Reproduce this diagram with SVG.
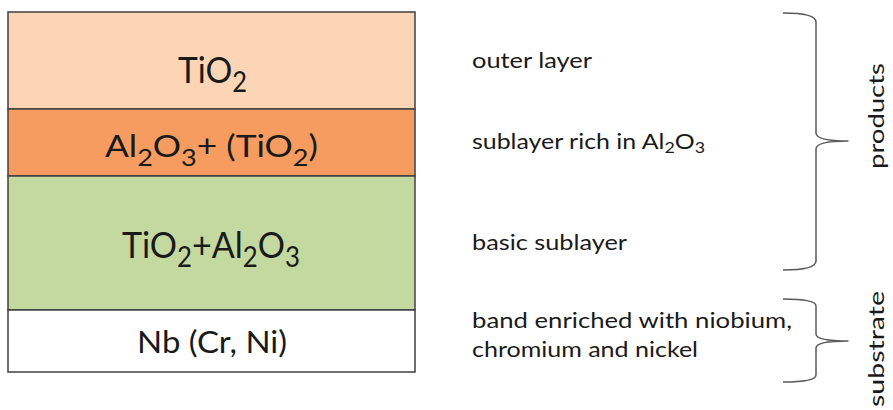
<svg xmlns="http://www.w3.org/2000/svg" width="893" height="410" viewBox="0 0 893 410">
  <style>
    .layer { stroke: #404040; stroke-width: 1.5; }
    .big { font-family: Lato, "Open Sans", "Liberation Sans", sans-serif; font-size: 37px; fill: #1a1a1a; }
    .mid { font-family: Lato, "Open Sans", "Liberation Sans", sans-serif; font-size: 30px; fill: #1a1a1a; }
    .note { font-family: Lato, "Open Sans", "Liberation Sans", sans-serif; font-size: 21px; fill: #1a1a1a; }
    .brace { fill: none; stroke: #5a5a5a; stroke-width: 1.5; stroke-linejoin: round; }
  </style>
  <rect width="893" height="410" fill="#ffffff"/>

  <!-- layer stack, top to bottom -->
  <g id="layer-tio2">
    <rect class="layer" x="8" y="12" width="407" height="97" fill="#fbd5b5"/>
    <text class="big" x="178" y="82.5" textLength="69" lengthAdjust="spacingAndGlyphs">TiO<tspan font-size="28" dy="9">2</tspan></text>
  </g>
  <g id="layer-al2o3">
    <rect class="layer" x="8" y="109" width="407" height="67" fill="#f79c60"/>
    <text class="mid" x="105" y="157" textLength="213" lengthAdjust="spacingAndGlyphs">Al<tspan font-size="23" dy="9">2</tspan><tspan dy="-9">O</tspan><tspan font-size="23" dy="9">3</tspan><tspan dy="-9">+ (TiO</tspan><tspan font-size="23" dy="9">2</tspan><tspan dy="-9">)</tspan></text>
  </g>
  <g id="layer-mixed">
    <rect class="layer" x="8" y="176" width="407" height="134" fill="#c4d9a0"/>
    <text class="big" x="122" y="258" textLength="178" lengthAdjust="spacingAndGlyphs">TiO<tspan font-size="28" dy="9">2</tspan><tspan dy="-9">+Al</tspan><tspan font-size="28" dy="9">2</tspan><tspan dy="-9">O</tspan><tspan font-size="28" dy="9">3</tspan></text>
  </g>
  <g id="layer-substrate">
    <rect class="layer" x="8" y="310" width="407" height="62" fill="#ffffff"/>
    <text class="mid" x="137" y="353" textLength="150" lengthAdjust="spacingAndGlyphs">Nb (Cr, Ni)</text>
  </g>

  <!-- layer descriptions -->
  <g id="desc-outer">
    <text class="note" x="472" y="67.5" textLength="120" lengthAdjust="spacingAndGlyphs">outer layer</text>
  </g>
  <g id="desc-rich">
    <text class="note" x="472" y="149" textLength="233" lengthAdjust="spacingAndGlyphs">sublayer rich in Al<tspan font-size="15" dy="4">2</tspan><tspan dy="-4">O</tspan><tspan font-size="15" dy="4">3</tspan></text>
  </g>
  <g id="desc-basic">
    <text class="note" x="472" y="249.5" textLength="155" lengthAdjust="spacingAndGlyphs">basic sublayer</text>
  </g>
  <g id="desc-band">
    <text class="note" x="472" y="328" textLength="320" lengthAdjust="spacingAndGlyphs">band enriched with niobium,</text>
    <text class="note" x="472" y="357" textLength="226" lengthAdjust="spacingAndGlyphs">chromium and nickel</text>
  </g>

  <!-- group labels -->
  <g id="label-products">
    <text class="note" transform="translate(883.5 116) rotate(-90)" text-anchor="middle" textLength="106" lengthAdjust="spacingAndGlyphs">products</text>
  </g>
  <g id="label-substrate">
    <text class="note" transform="translate(883.5 349) rotate(-90)" text-anchor="middle" textLength="116" lengthAdjust="spacingAndGlyphs">substrate</text>
  </g>

  <!-- braces -->
  <g id="connectors">
    <path class="brace" d="M783,13 Q816,13 816,22 L816,133 Q816,141 848,141 Q816,141 816,149 L816,261 Q816,270 783,270"/>
    <path class="brace" d="M783,299 Q816,299 816,306 L816,334 Q816,341 848,341 Q816,341 816,348 L816,375 Q816,382 783,382"/>
  </g>
</svg>
